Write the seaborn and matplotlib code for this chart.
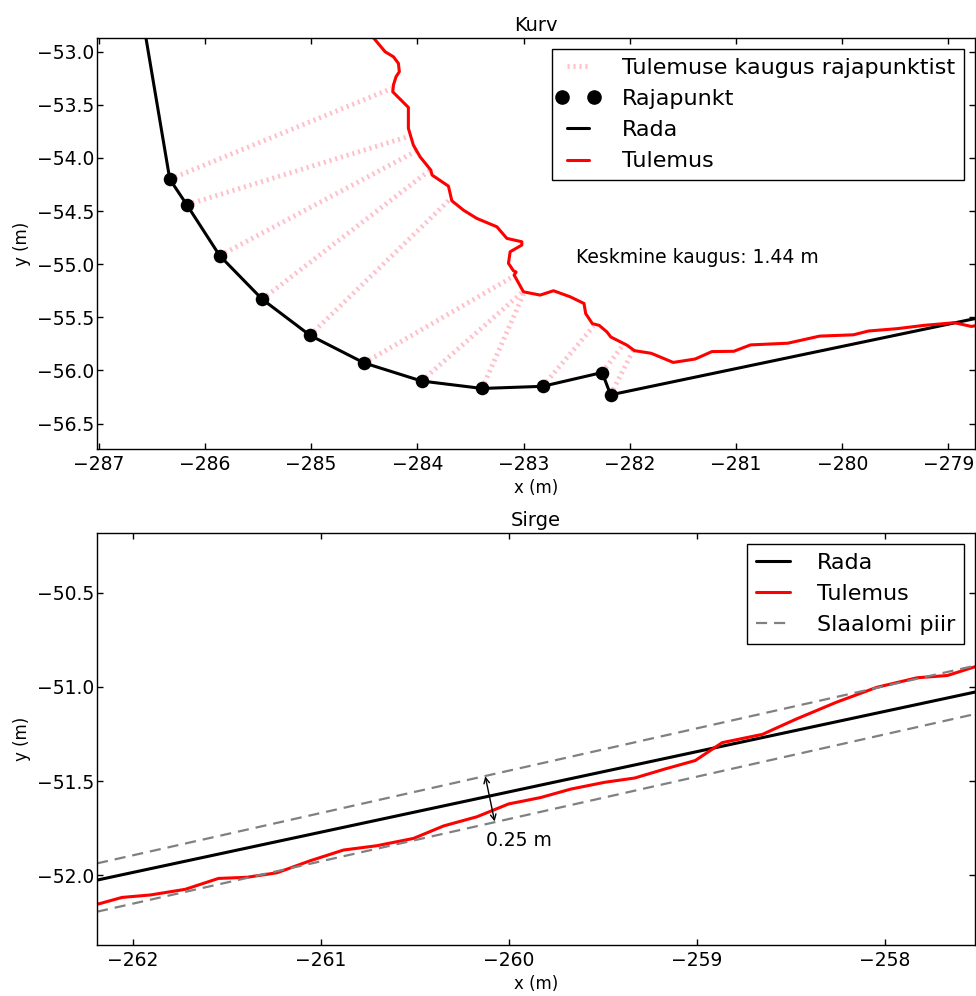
import matplotlib
matplotlib.use("Agg")
import pandas as pd
import seaborn as sns
import matplotlib.pyplot as plt
import matplotlib.ticker as ticker
from matplotlib.lines import Line2D
from matplotlib.legend_handler import HandlerLine2D

# ---- Kurv (top panel) ----
# rajapunktid (track control points)
rajapunkt_x = [-286.33, -286.17, -285.86, -285.46, -285.01, -284.50,
               -283.96, -283.39, -282.82, -282.26, -282.18]
rajapunkt_y = [-54.20, -54.44, -54.92, -55.33, -55.67, -55.93,
               -56.10, -56.17, -56.15, -56.02, -56.23]
# track start/end outside the view
rada_algus = (-286.60, -52.60)
rada_lopp = (-278.50, -55.46)

# nearest result point for each rajapunkt
lahim_x = [-284.24, -284.07, -284.01, -283.88, -283.69, -283.09,
           -283.01, -283.00, -282.34, -282.07, -281.97]
lahim_y = [-53.345, -53.794, -53.935, -54.114, -54.387, -55.112,
           -55.263, -55.282, -55.583, -55.771, -55.814]

# tulemus (result path)
tulemus_x = [-284.47, -284.303, -284.225, -284.178, -284.169, -284.200, -284.225,
             -284.231, -284.084, -284.084, -284.037, -283.974, -283.873, -283.861,
             -283.707, -283.675, -283.566, -283.440, -283.251, -283.157, -283.016,
             -283.016, -283.126, -283.142, -283.095, -283.070, -283.089, -283.079,
             -283.001, -282.844, -282.718, -282.561, -282.431, -282.415, -282.352,
             -282.288, -282.216, -282.178, -282.027, -281.956, -281.798, -281.591,
             -281.385, -281.227, -281.021, -280.863, -280.513, -280.212, -279.895,
             -279.752, -279.483, -279.230, -278.944, -278.785, -278.654]
tulemus_y = [-52.80, -53.000, -53.047, -53.109, -53.188, -53.235, -53.314,
             -53.377, -53.524, -53.721, -53.879, -53.989, -54.114, -54.161,
             -54.265, -54.403, -54.491, -54.569, -54.648, -54.757, -54.789,
             -54.820, -54.883, -54.992, -55.062, -55.074, -55.103, -55.119,
             -55.260, -55.291, -55.250, -55.307, -55.370, -55.465, -55.560,
             -55.576, -55.637, -55.686, -55.762, -55.814, -55.839, -55.925,
             -55.893, -55.823, -55.820, -55.760, -55.744, -55.677, -55.665,
             -55.629, -55.607, -55.576, -55.551, -55.586, -55.564]
keskmine_kaugus = 1.44

# ---- Sirge (bottom panel) ----
sirge_rada_x = [-262.19, -257.52]
sirge_rada_y = [-52.027, -51.027]
piir_ules_y = [-51.938, -50.887]
piir_alla_y = [-52.195, -51.144]
sirge_tulemus_x = [-262.205, -262.057, -261.907, -261.721, -261.544, -261.393, -261.233,
                   -261.056, -260.879, -260.701, -260.506, -260.347, -260.169, -260.001,
                   -259.831, -259.670, -259.491, -259.330, -259.169, -259.008, -258.865,
                   -258.651, -258.472, -258.257, -258.043, -257.828, -257.667, -257.497]
sirge_tulemus_y = [-52.160, -52.119, -52.106, -52.076, -52.018, -52.012, -51.988,
                   -51.924, -51.867, -51.844, -51.805, -51.739, -51.690, -51.622,
                   -51.588, -51.543, -51.507, -51.484, -51.436, -51.391, -51.296,
                   -51.252, -51.171, -51.081, -51.002, -50.951, -50.939, -50.885]
slaalomi_laius = 0.25

sns.set_style("ticks")
plt.rcParams.update({
    "font.family": ["DejaVu Sans"],
    "text.color": "black", "axes.labelcolor": "black",
    "xtick.color": "black", "ytick.color": "black",
    "xtick.direction": "in", "ytick.direction": "in",
    "xtick.top": True, "ytick.right": True,
    "xtick.major.size": 4, "ytick.major.size": 4,
    "xtick.major.width": 1.0, "ytick.major.width": 1.0,
    "xtick.labelsize": 13.5, "ytick.labelsize": 13.5,
    "xtick.major.pad": 4, "ytick.major.pad": 2,
    "axes.linewidth": 1.0, "axes.edgecolor": "black",
    "lines.scale_dashes": False,
})

fig = plt.figure(figsize=(9.76, 9.96), dpi=100)
ax1 = fig.add_axes([0.0994, 0.5492, 0.8996, 0.4127])
ax2 = fig.add_axes([0.0994, 0.0512, 0.8996, 0.4137])

pink_ls = (0, (1.5, 2.8))
for i in range(len(rajapunkt_x)):
    seg = pd.DataFrame({"x": [rajapunkt_x[i], lahim_x[i]], "y": [rajapunkt_y[i], lahim_y[i]]})
    sns.lineplot(data=seg, x="x", y="y", sort=False, estimator=None, ax=ax1,
                 color="pink", lw=3.5, linestyle=pink_ls)

sns.scatterplot(x=rajapunkt_x, y=rajapunkt_y, ax=ax1, color="black", s=95,
                edgecolor="black", linewidth=0, zorder=3)
rada = pd.DataFrame({"x": [rada_algus[0]] + rajapunkt_x + [rada_lopp[0]],
                     "y": [rada_algus[1]] + rajapunkt_y + [rada_lopp[1]]})
sns.lineplot(data=rada, x="x", y="y", sort=False, estimator=None, ax=ax1,
             color="black", lw=2.2, zorder=2)
tul = pd.DataFrame({"x": tulemus_x, "y": tulemus_y})
sns.lineplot(data=tul, x="x", y="y", sort=False, estimator=None, ax=ax1,
             color="red", lw=2.2, zorder=2)

ax1.text(-282.505, -54.933, "Keskmine kaugus: %.2f m" % keskmine_kaugus,
         fontsize=13.5, va="center", ha="left")

h_punkt = Line2D([], [], color="black", marker="o", ls="none", markersize=9.5)
handles1 = [Line2D([], [], color="pink", lw=3.5, linestyle=pink_ls),
            h_punkt,
            Line2D([], [], color="black", lw=2.2),
            Line2D([], [], color="red", lw=2.2)]
labels1 = ["Tulemuse kaugus rajapunktist", "Rajapunkt", "Rada", "Tulemus"]
ax1.legend(handles1, labels1, loc="upper right", numpoints=2, fontsize=16,
           frameon=True, fancybox=False, edgecolor="black", framealpha=1,
           handlelength=1.55, handletextpad=1.2,
           handler_map={h_punkt: HandlerLine2D(marker_pad=0.05, numpoints=2)})

ax1.set_xlim(-287.015, -278.75)
ax1.set_ylim(-56.74, -52.87)
ax1.xaxis.set_major_locator(ticker.MultipleLocator(1))
ax1.yaxis.set_major_locator(ticker.MultipleLocator(0.5))
ax1.set_title("Kurv", fontsize=14, pad=5)
ax1.set_xlabel("x (m)", fontsize=12)
ax1.set_ylabel("y (m)", fontsize=12)

# Sirge
sns.lineplot(x=sirge_rada_x, y=sirge_rada_y, sort=False, estimator=None, ax=ax2,
             color="black", lw=2.2)
sns.lineplot(x=sirge_tulemus_x, y=sirge_tulemus_y, sort=False, estimator=None, ax=ax2,
             color="red", lw=2.2)
piir_ls = (0, (8, 5))
sns.lineplot(x=sirge_rada_x, y=piir_ules_y, sort=False, estimator=None, ax=ax2,
             color="grey", lw=1.6, linestyle=piir_ls)
sns.lineplot(x=sirge_rada_x, y=piir_alla_y, sort=False, estimator=None, ax=ax2,
             color="grey", lw=1.6, linestyle=piir_ls)

ax2.annotate("", xy=(-260.075, -51.715), xytext=(-260.125, -51.475),
             arrowprops=dict(arrowstyle="<->", lw=1.0, color="black",
                             shrinkA=0, shrinkB=0))
ax2.text(-260.12, -51.814, "%.2f m" % slaalomi_laius, fontsize=13.5,
         va="center", ha="left")

handles2 = [Line2D([], [], color="black", lw=2.2),
            Line2D([], [], color="red", lw=2.2),
            Line2D([], [], color="grey", lw=1.6, linestyle=piir_ls)]
labels2 = ["Rada", "Tulemus", "Slaalomi piir"]
ax2.legend(handles2, labels2, loc="upper right", fontsize=16, frameon=True,
           fancybox=False, edgecolor="black", framealpha=1,
           handlelength=1.55, handletextpad=1.2)

ax2.set_xlim(-262.19, -257.52)
ax2.set_ylim(-52.372, -50.181)
ax2.xaxis.set_major_locator(ticker.MultipleLocator(1))
ax2.yaxis.set_major_locator(ticker.MultipleLocator(0.5))
ax2.set_title("Sirge", fontsize=14, pad=5)
ax2.set_xlabel("x (m)", fontsize=12)
ax2.set_ylabel("y (m)", fontsize=12)

for ax in (ax1, ax2):
    for sp in ax.spines.values():
        sp.set_visible(True)

fig.savefig("out.png", dpi=100)
